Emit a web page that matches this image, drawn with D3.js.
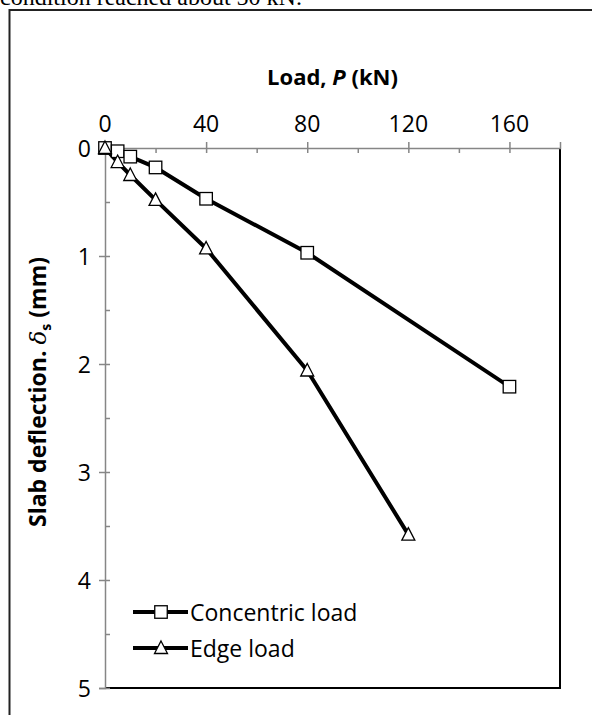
<!DOCTYPE html>
<html><head><meta charset="utf-8">
<script src="https://cdn.jsdelivr.net/npm/d3@7"></script>
<style>body{margin:0;background:#fff} svg{display:block}</style>
</head><body>
<script>
const loadsConcentric = [0, 5, 10, 20, 40, 80, 160];
const deflConcentric  = [0, 0.03, 0.08, 0.18, 0.47, 0.97, 2.21];
const loadsEdge = [0, 5, 10, 20, 40, 80, 120];
const deflEdge  = [0, 0.13, 0.25, 0.48, 0.93, 2.06, 3.58];
const xTicks = [0, 40, 80, 120, 160];
const xMinor = [20, 60, 100, 140];
const yTicks = [0, 1, 2, 3, 4, 5];
const yMinor = [0.5, 1.5, 2.5, 3.5, 4.5];
const seriesNames = ["Concentric load", "Edge load"];

const W = 592, H = 715;
const svg = d3.select("body").append("svg").attr("width", W).attr("height", H);
const FONT = "'Open Sans', sans-serif";

// caption fragment at top
svg.append("text").attr("x", 0).attr("y", 5)
  .attr("font-family", "'Liberation Serif', serif").attr("font-size", 24)
  .text("condition reached about 50 kN.");

// outer frame (left & top edges)
svg.append("path").attr("d", `M9.5,${H} V10 H${W}`).attr("fill", "none")
  .attr("stroke", "#222").attr("stroke-width", 2);

const x = d3.scaleLinear().domain([0, 180]).range([105, 560]);
const y = d3.scaleLinear().domain([0, 5]).range([148, 688]);

// plot area border (right & bottom)
svg.append("path").attr("d", `M${x(0)},${y(5)} H${x(180)} V${y(0)}`)
  .attr("fill", "none").attr("stroke", "#000").attr("stroke-width", 2);

const axisColor = "#868686";
// X axis (top)
const gx = svg.append("g").attr("transform", `translate(0,${y(0)})`)
  .call(d3.axisTop(x).tickValues(xTicks).tickSize(6).tickFormat(""));
gx.select(".domain").attr("stroke", axisColor).attr("stroke-width", 1.5);
gx.selectAll(".tick line").attr("stroke", axisColor).attr("stroke-width", 1.5).attr("y1", 5).attr("y2", -6);
const gxm = svg.append("g").attr("transform", `translate(0,${y(0)})`)
  .call(d3.axisTop(x).tickValues(xMinor).tickSize(-5).tickFormat(""));
gxm.select(".domain").remove();
gxm.selectAll(".tick line").attr("stroke", axisColor).attr("stroke-width", 1.5);
svg.append("g").selectAll("text").data(xTicks).join("text")
  .attr("x", d => x(d)).attr("y", 131.5).attr("text-anchor", "middle")
  .attr("font-family", FONT).attr("font-size", 23).attr("fill", "#000").text(d => d);

// Y axis (left)
const gy = svg.append("g").attr("transform", `translate(${x(0)},0)`)
  .call(d3.axisLeft(y).tickValues(yTicks).tickSize(6).tickFormat(""));
gy.select(".domain").attr("stroke", axisColor).attr("stroke-width", 1.5);
gy.selectAll(".tick line").attr("stroke", axisColor).attr("stroke-width", 1.5).attr("x1", 5).attr("x2", -6);
const gym = svg.append("g").attr("transform", `translate(${x(0)},0)`)
  .call(d3.axisLeft(y).tickValues(yMinor).tickSize(-5).tickFormat(""));
gym.select(".domain").remove();
gym.selectAll(".tick line").attr("stroke", axisColor).attr("stroke-width", 1.5);
svg.append("g").selectAll("text").data(yTicks).join("text")
  .attr("x", 91).attr("y", d => y(d) + 8.5).attr("text-anchor", "end")
  .attr("font-family", FONT).attr("font-size", 23).attr("fill", "#000").text(d => d);

// axis titles
const xt = svg.append("text").attr("x", (x(0) + x(180)) / 2).attr("y", 85)
  .attr("text-anchor", "middle").attr("font-family", FONT).attr("font-size", 22)
  .attr("font-weight", "bold");
xt.append("tspan").text("Load, ");
xt.append("tspan").attr("font-style", "italic").text("P");
xt.append("tspan").text(" (kN)");

const yt = svg.append("text").attr("transform", `translate(46,392) rotate(-90)`)
  .attr("text-anchor", "middle").attr("font-family", FONT).attr("font-size", 23)
  .attr("font-weight", "bold");
yt.append("tspan").text("Slab deflection. ");
yt.append("tspan").attr("font-style", "italic").attr("font-family", "'DejaVu Serif', serif").attr("font-weight", "normal").text("δ");
yt.append("tspan").attr("font-size", 14).attr("dy", 5).text("s");
yt.append("tspan").attr("dy", -5).text(" (mm)");

// series
const line = d3.line().x(d => x(d[0])).y(d => y(d[1]));
const conc = loadsConcentric.map((p, i) => [p, deflConcentric[i]]);
const edge = loadsEdge.map((p, i) => [p, deflEdge[i]]);

[conc, edge].forEach(data => {
  svg.append("path").datum(data).attr("d", line).attr("fill", "none")
    .attr("stroke", "#000").attr("stroke-width", 4).attr("stroke-linejoin", "round");
});

const sq = 12.5;
function square(g, cx, cy) {
  g.append("rect").attr("x", cx - sq / 2).attr("y", cy - sq / 2).attr("width", sq).attr("height", sq)
    .attr("fill", "#fff").attr("stroke", "#000").attr("stroke-width", 1.3);
}
function tri(g, cx, cy) {
  g.append("path").attr("d", `M${cx},${cy - 7} L${cx + 6.5},${cy + 5.5} L${cx - 6.5},${cy + 5.5} Z`)
    .attr("fill", "#fff").attr("stroke", "#000").attr("stroke-width", 1.3).attr("stroke-linejoin", "miter");
}
const mk = svg.append("g");
conc.forEach(d => square(mk, x(d[0]), y(d[1])));
edge.forEach(d => tri(mk, x(d[0]), y(d[1])));

// legend
const leg = svg.append("g");
const legY = [612, 648];
seriesNames.forEach((name, i) => {
  leg.append("line").attr("x1", 133).attr("x2", 188).attr("y1", legY[i]).attr("y2", legY[i])
    .attr("stroke", "#000").attr("stroke-width", 4);
  if (i === 0) square(leg, 161, legY[i]); else tri(leg, 161, legY[i]);
  leg.append("text").attr("x", 190).attr("y", legY[i] + 8.5)
    .attr("font-family", FONT).attr("font-size", 23).text(name);
});
</script>
</body></html>
